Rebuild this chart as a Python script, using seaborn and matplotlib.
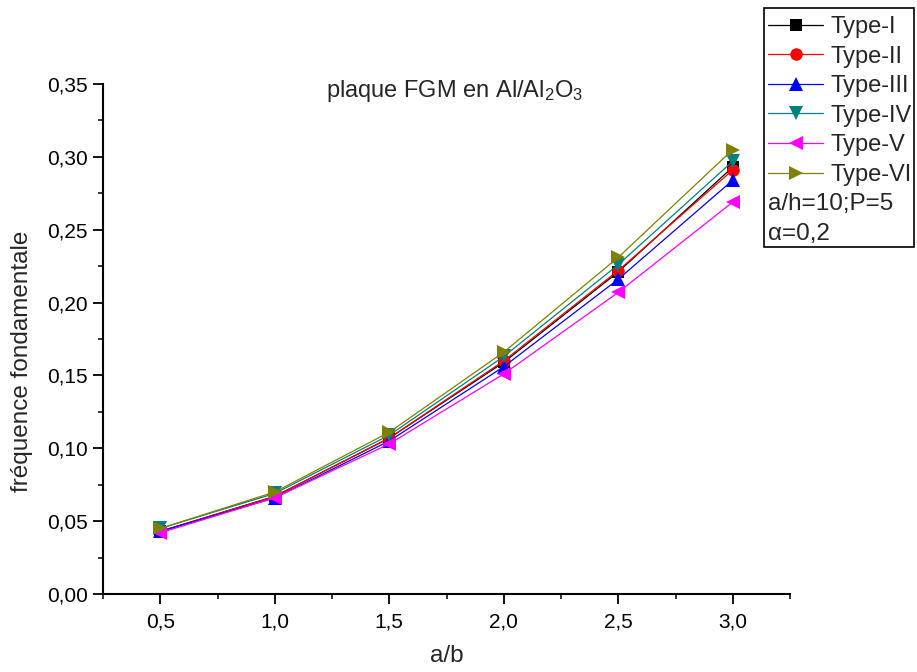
import numpy as np
import pandas as pd
import matplotlib
matplotlib.use("Agg")
import matplotlib.pyplot as plt
from matplotlib.patches import Rectangle
from matplotlib.ticker import FuncFormatter, MultipleLocator
import seaborn as sb

# data
ab = [0.5, 1.0, 1.5, 2.0, 2.5, 3.0]
types = ["Type-I", "Type-II", "Type-III", "Type-IV", "Type-V", "Type-VI"]
type_1 = [0.043, 0.067, 0.107, 0.159, 0.221, 0.293]
type_2 = [0.043, 0.067, 0.107, 0.160, 0.222, 0.291]
type_3 = [0.043, 0.066, 0.105, 0.156, 0.216, 0.284]
type_4 = [0.045, 0.069, 0.109, 0.163, 0.226, 0.297]
type_5 = [0.042, 0.066, 0.103, 0.151, 0.207, 0.269]
type_6 = [0.045, 0.070, 0.111, 0.166, 0.231, 0.305]
values = [type_1, type_2, type_3, type_4, type_5, type_6]

colors = ["black", "red", "blue", "#008080", "#ff00ff", "#808000"]
markers = ["s", "o", "^", "v", "<", ">"]

df = pd.DataFrame({"a/b": ab * len(types),
                   "freq": np.concatenate(values),
                   "type": np.repeat(types, len(ab))})

sb.set_style("ticks")
plt.rcParams['font.family'] = ['Liberation Sans', 'DejaVu Sans']
plt.rcParams['mathtext.default'] = 'regular'

fig = plt.figure(figsize=(9.17, 6.72), dpi=100)
ax = fig.add_axes([103/917, 78/672, 687/917, 510/672])

for t, c, m in zip(types, colors, markers):
    ms = 9 if m in ("s", "o") else 10.5
    sb.lineplot(data=df[df["type"] == t], x="a/b", y="freq", ax=ax,
                color=c, marker=m, markersize=ms, markeredgewidth=0,
                linewidth=0.9, label=t, legend=False)

ax.set_xlim(0.25, 3.25)
ax.set_ylim(0, 0.35)
ax.xaxis.set_major_locator(MultipleLocator(0.5))
ax.xaxis.set_minor_locator(MultipleLocator(0.25))
ax.yaxis.set_major_locator(MultipleLocator(0.05))
ax.yaxis.set_minor_locator(MultipleLocator(0.025))
ax.xaxis.set_major_formatter(FuncFormatter(lambda v, p: ("%.1f" % v).replace(".", ",")))
ax.yaxis.set_major_formatter(FuncFormatter(lambda v, p: ("%.2f" % v).replace(".", ",")))
ax.tick_params(which="major", direction="out", length=7, width=1.3, labelsize=15,
               colors="black", pad=4)
ax.tick_params(axis="x", which="major", pad=6)
ax.tick_params(which="minor", direction="out", length=3.8, width=1.3)
sb.despine(ax=ax)
for s in ["left", "bottom"]:
    ax.spines[s].set_linewidth(1.5)
    ax.spines[s].set_color("black")
ax.set_xlabel("a/b", fontsize=17.5, va="top")
ax.xaxis.set_label_coords(0.5, -0.1)
ax.set_ylabel("fréquence fondamentale", fontsize=17.5)
ax.yaxis.set_label_coords(-0.102, 0.457)

ax.text(0.512, 0.975, "plaque FGM en Al/Al$_2$O$_3$", transform=ax.transAxes,
        ha="center", va="baseline", fontsize=17)

# legend box with extra parameter lines
fig.patches.append(Rectangle((764/917, 1 - 247/672), 150/917, 239/672,
                             transform=fig.transFigure, fill=False,
                             edgecolor="black", linewidth=1.2))
leg = ax.legend(loc="upper left", bbox_to_anchor=(768/917, 1 - 16/672),
                bbox_transform=fig.transFigure, frameon=False, fontsize=17,
                handlelength=2.33, handletextpad=0.3, labelspacing=0.32,
                borderpad=0, borderaxespad=0)
fig.text(768/917, 1 - 204/672, "a/h=10;P=5", fontsize=17.5, va="center", ha="left")
fig.text(768/917, 1 - 234/672, "\u03b1=0,2", fontsize=17.5, va="center", ha="left")

plt.savefig("out.png", dpi=100)
